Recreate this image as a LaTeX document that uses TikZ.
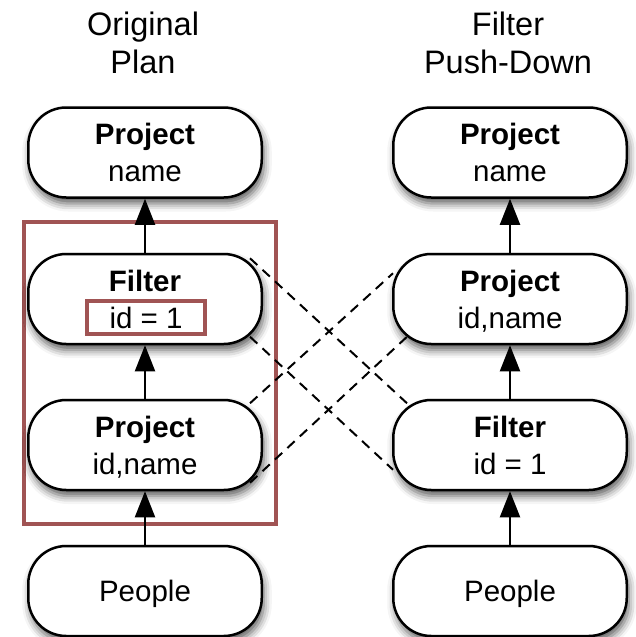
\documentclass[tikz,border=0pt]{standalone}
\usepackage{fontspec}
\setmainfont{Liberation Sans}
\usetikzlibrary{arrows.meta,calc,shadows.blur}
\definecolor{frame}{RGB}{160,84,84}
\tikzset{
  opbox/.style={draw=black, line width=2.5pt, fill=white, rounded corners=38pt,
    minimum width=233.5pt, minimum height=90pt, inner sep=0pt, align=center,
    text depth=0pt, font=\fontsize{29.5}{37}\selectfont,
    blur shadow={shadow xshift=2pt, shadow yshift=-6pt, shadow blur radius=8pt, shadow opacity=65}},
  title/.style={align=center, inner sep=0pt, font=\fontsize{32.5}{38}\selectfont},
  flow/.style={line width=2pt, -{Triangle[length=26pt,width=20pt]}},
  swap/.style={line width=2pt, dash pattern=on 10pt off 7pt},
  hilite/.style={draw=frame, line width=4pt},
}
\begin{document}
\begin{tikzpicture}[x=1pt,y=-1pt]
\useasboundingbox (0,0) rectangle (635,637);
\node[title] (t1) at (143,42.5) {Original\\Plan};
\node[title] (t2) at (508,42.5) {Filter\\Push-Down};

% red frame (drawn first)
\draw[hilite] (24,222) rectangle (276,524);

% left column
\node[opbox] (LP1) at (145,152.5) {\textbf{Project}\\name};
\node[opbox] (LF)  at (145,299)   {\textbf{Filter}\\\phantom{id = 1}};
\node[opbox] (LP2) at (145,445)   {\textbf{Project}\\id,name};
\node[opbox] (LPe) at (145,591)   {People};
\node[hilite, minimum width=118pt, minimum height=33pt, inner sep=0pt,
      text depth=0pt, font=\fontsize{29.5}{37}\selectfont] (cond) at (146,317.5) {id = 1};

% right column
\node[opbox] (RP1) at (510,152.5) {\textbf{Project}\\name};
\node[opbox] (RP2) at (510,299)   {\textbf{Project}\\id,name};
\node[opbox] (RF)  at (510,445)   {\textbf{Filter}\\id = 1};
\node[opbox] (RPe) at (510,591)   {People};

% flow arrows
\draw[flow] (LPe.north) -- (LP2.south);
\draw[flow] (LP2.north) -- (LF.south);
\draw[flow] (LF.north) -- (LP1.south);
\draw[flow] (RPe.north) -- (RF.south);
\draw[flow] (RF.north) -- (RP2.south);
\draw[flow] (RP2.north) -- (RP1.south);

% dashed correspondences
\draw[swap] ($(LF.north east)+(-13,5.5)$) -- ($(RF.north west)+(15,4.5)$);
\draw[swap] ($(LF.south east)+(-13,-8.5)$) -- ($(RF.south west)+(1,-21.5)$);
\draw[swap] ($(LP2.north east)+(-13,4.5)$) -- ($(RP2.north west)+(1,20.5)$);
\draw[swap] ($(LP2.south east)+(-13,-8.5)$) -- ($(RP2.south west)+(15,-8.5)$);
\end{tikzpicture}
\end{document}
